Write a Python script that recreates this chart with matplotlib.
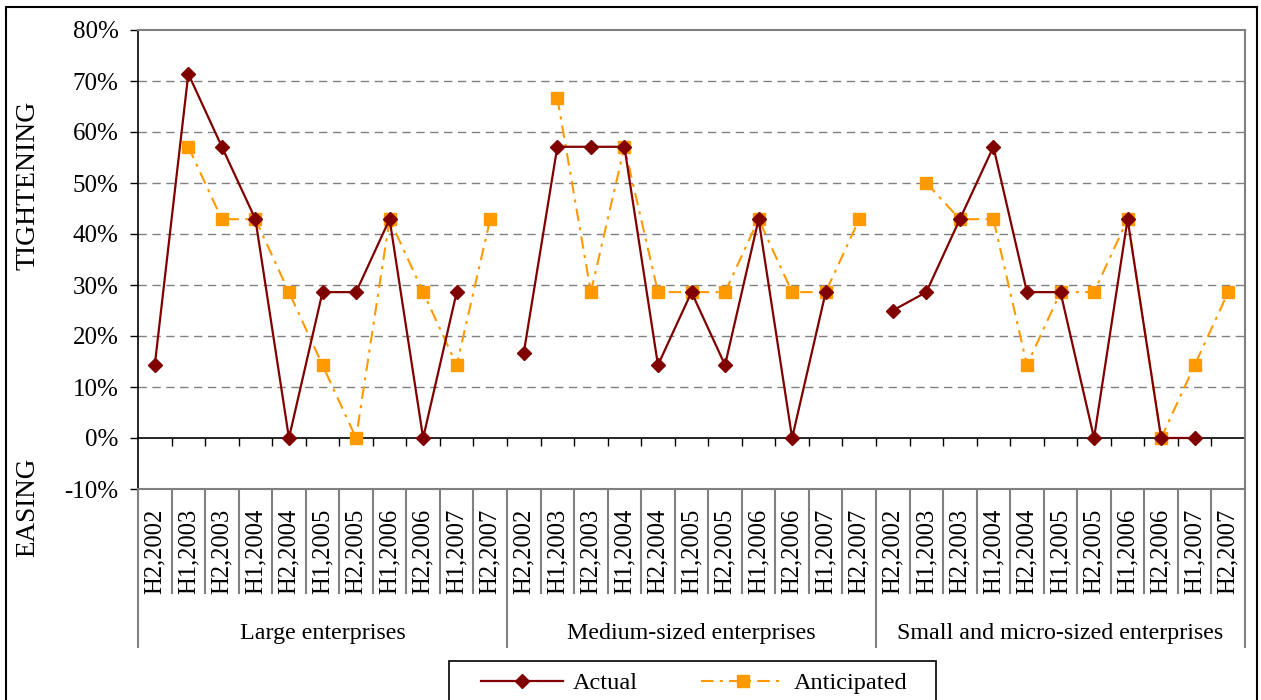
import numpy as np
import matplotlib
matplotlib.use('Agg')
from matplotlib import pyplot as plt
from matplotlib.lines import Line2D
from matplotlib.patches import Rectangle
from matplotlib.transforms import blended_transform_factory

plt.rcParams['font.family'] = ['Liberation Serif', 'DejaVu Serif']

periods = ['H2,2002', 'H1,2003', 'H2,2003', 'H1,2004', 'H2,2004', 'H1,2005',
           'H2,2005', 'H1,2006', 'H2,2006', 'H1,2007', 'H2,2007']
groups = ['Large enterprises', 'Medium-sized enterprises', 'Small and micro-sized enterprises']

nan = np.nan
large_actual = [14.3, 71.4, 57.1, 42.9, 0, 28.6, 28.6, 42.9, 0, 28.6, nan]
large_anticipated = [nan, 57.1, 42.9, 42.9, 28.6, 14.3, 0, 42.9, 28.6, 14.3, 42.9]
medium_actual = [16.7, 57.1, 57.1, 57.1, 14.3, 28.6, 14.3, 42.9, 0, 28.6, nan]
medium_anticipated = [nan, 66.7, 28.6, 57.1, 28.6, 28.6, 28.6, 42.9, 28.6, 28.6, 42.9]
small_actual = [25.0, 28.6, 42.9, 57.1, 28.6, 28.6, 0, 42.9, 0, 0, nan]
small_anticipated = [nan, 50.0, 42.9, 42.9, 14.3, 28.6, 28.6, 42.9, 0, 14.3, 28.6]

actual = [large_actual, medium_actual, small_actual]
anticipated = [large_anticipated, medium_anticipated, small_anticipated]

W, H = 1261, 700
fig = plt.figure(figsize=(W / 100, H / 100), dpi=100)


def fy(px):
    return 1 - px / H


ax = fig.add_axes([138 / W, fy(489), (1245 - 138) / W, (489 - 30) / H])

n = len(periods)
for g in range(3):
    x = np.arange(n) + g * n
    ax.plot(x, actual[g], color='#800000', lw=1.6, marker='D', ms=7.5,
            label='Actual' if g == 0 else None, zorder=4)
    ax.plot(x, anticipated[g], color='#FF9900', lw=1.5, ls=(0, (6, 3, 1.5, 3)),
            marker='s', ms=8.5, label='Anticipated' if g == 0 else None, zorder=3)

ax.set_xlim(-0.5, 3 * n - 0.5)
ax.set_ylim(-10, 80)
ax.set_yticks(np.arange(-10, 81, 10))
ax.set_yticklabels(['%d%%' % v for v in range(-10, 81, 10)], fontsize=18)
ax.tick_params(axis='y', direction='out', length=6, width=1, pad=8)
ax.set_xticks([])
for v in range(10, 80, 10):
    ax.axhline(v, color='#808080', lw=1, ls=(0, (6, 4)), zorder=1)
ax.axhline(0, color='black', lw=1.2, zorder=2)
bounds = np.arange(3 * n + 1) - 0.5
ax.vlines(bounds[1:-1], -1.6, 0, color='black', lw=1, zorder=2)

for s in ['top', 'right', 'bottom']:
    ax.spines[s].set_color('#808080')
    ax.spines[s].set_linewidth(1.5)
ax.spines['left'].set_color('black')
ax.spines['left'].set_linewidth(1.2)

# category axis below the plot
tr = blended_transform_factory(ax.transData, fig.transFigure)
for i, b in enumerate(bounds):
    bottom = 647 if i % n == 0 else 593
    ax.add_line(Line2D([b, b], [fy(489), fy(bottom)], transform=tr, color='#808080',
                       lw=1.5, clip_on=False))
for g in range(3):
    for i, p in enumerate(periods):
        ax.text(g * n + i, fy(551), p, transform=tr, rotation=90, ha='center',
                va='center', fontsize=17.7)
    ax.text(g * n + (n - 1) / 2, fy(633), groups[g], transform=tr, ha='center',
            va='center', fontsize=17.3)

fig.text(28 / W, fy(185), 'TIGHTENING', rotation=90, ha='center', va='center', fontsize=20)
fig.text(28 / W, fy(507), 'EASING', rotation=90, ha='center', va='center', fontsize=19.5)

fig.patches.append(Rectangle((6 / W, -0.05), (1257 - 6) / W, fy(7) + 0.05,
                             transform=fig.transFigure, fill=False, ec='black', lw=1.5))

# legend box runs off the bottom of the image
fig.patches.append(Rectangle((449 / W, -0.05), (936 - 449) / W, fy(661) + 0.05,
                             transform=fig.transFigure, fill=False, ec='black', lw=1.2))
leg = fig.legend(loc='center', bbox_to_anchor=(694 / W, fy(683)), ncol=2,
                 fontsize=17.5, frameon=False, columnspacing=2.6, handlelength=3.4,
                 handletextpad=0.4, borderaxespad=0, borderpad=0)

fig.savefig('out.png', dpi=100)
